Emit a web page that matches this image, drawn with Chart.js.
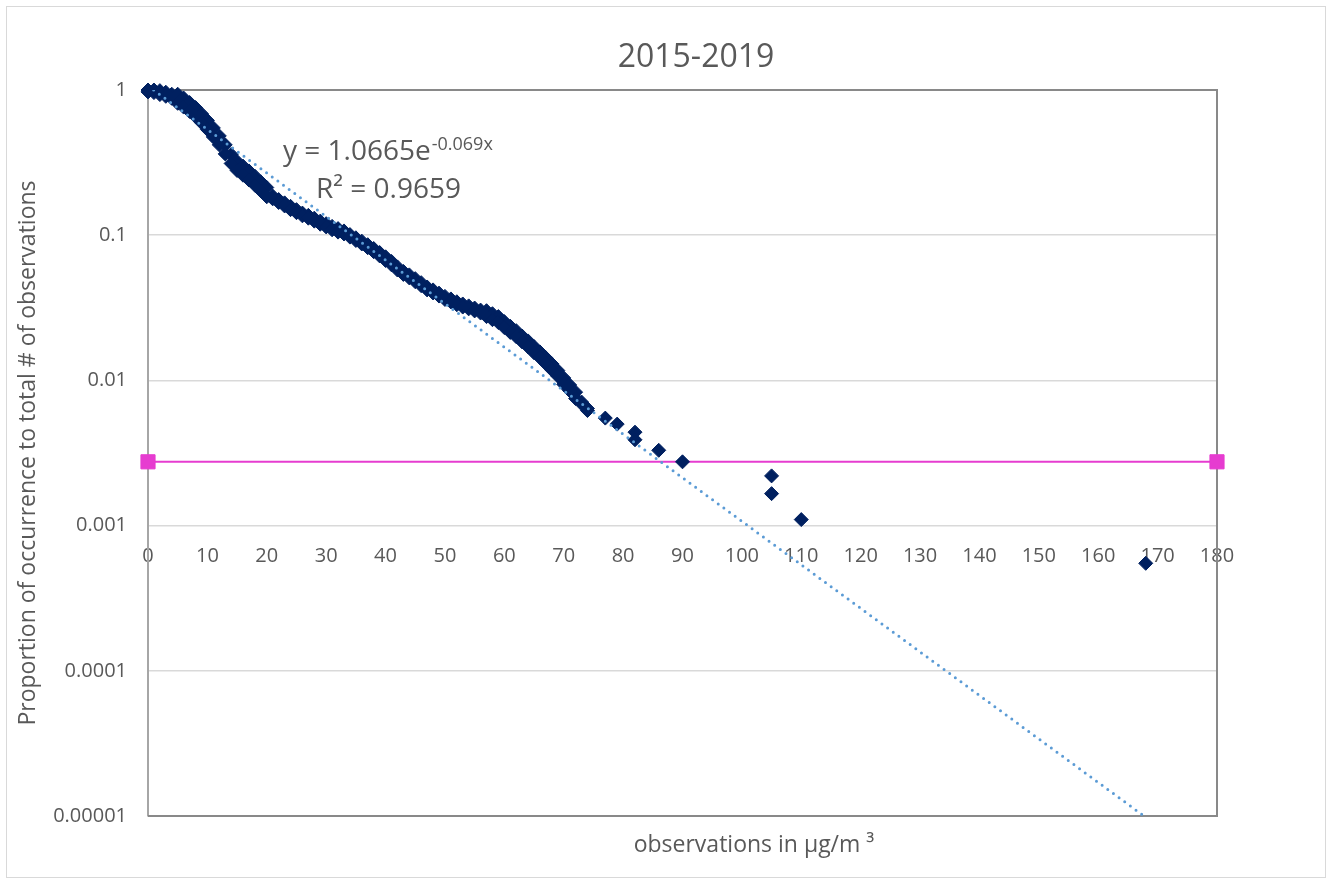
<!DOCTYPE html>
<html><head><meta charset="utf-8">
<script src="https://cdn.jsdelivr.net/npm/chart.js@4/dist/chart.umd.min.js"></script>
<style>html,body{margin:0;padding:0;background:#fff;} #wrap{width:1330px;height:882px;}</style>
</head><body><div id="wrap"><canvas id="c" width="1330" height="882"></canvas></div>
<script>
const chartTitle = '2015-2019';
const xAxisTitle = 'observations in µg/m ³';
const yAxisTitle = 'Proportion of occurrence to total # of observations';
const trendEquation = 'y = 1.0665e';
const trendExponent = '-0.069x';
const trendR2 = 'R² = 0.9659';

// dense part of the observations: upper and lower edge of the band at each µg/m³
const bandX = [0,1,2,3,4,5,6,7,8,9,10,11,12,13,14,15,16,17,18,19,20,21,22,23,24,25,26,27,28,29,30,31,32,33,34,35,36,37,38,39,40,41,42,43,44,45,46,47,48,49,50,51,52,53,54,55,56,57,58,59,60,61,62,63,64,65,66,67,68,69,70,71,72,73,74];
const bandUpperY = [1.0,1.0,0.99,0.965,0.935,0.935,0.88,0.82,0.757,0.687,0.617,0.548,0.483,0.419,0.36,0.322,0.299,0.277,0.255,0.233,0.213,0.186,0.176,0.167,0.158,0.150,0.142,0.137,0.131,0.125,0.120,0.115,0.111,0.107,0.101,0.096,0.091,0.086,0.081,0.076,0.071,0.066,0.0605,0.0563,0.0533,0.0502,0.0471,0.0440,0.0420,0.0399,0.0379,0.0364,0.0348,0.0336,0.0326,0.0315,0.0305,0.0302,0.0288,0.0275,0.0254,0.0236,0.0220,0.0202,0.0187,0.0171,0.0157,0.0143,0.0130,0.0117,0.0104,0.0093,0.0083,0.0071,0.0064];
const bandLowerY = [0.97,0.96,0.93,0.905,0.877,0.81,0.763,0.712,0.656,0.596,0.535,0.475,0.419,0.363,0.312,0.279,0.259,0.240,0.221,0.202,0.184,0.178,0.168,0.159,0.150,0.143,0.136,0.131,0.125,0.119,0.114,0.109,0.105,0.102,0.097,0.092,0.087,0.082,0.077,0.072,0.067,0.0625,0.0576,0.0537,0.0508,0.0478,0.0449,0.0420,0.0400,0.0381,0.0361,0.0347,0.0332,0.0320,0.0311,0.0301,0.0291,0.0275,0.0262,0.0250,0.0231,0.0214,0.0200,0.0184,0.0170,0.0155,0.0143,0.0130,0.0118,0.0107,0.0094,0.0085,0.0075,0.0069,0.0062];
// isolated high observations
const tailX = [77,79,82,82,86,90,105,105,110,168];
const tailY = [0.0055,0.0050,0.0044,0.0039,0.0033,0.00275,0.0022,0.00166,0.0011,0.00055];
// exponential trendline end points
const trendX = [0, 168];
const trendY = [1.0665, 0.0000098];
// limit line
const limitX = [0, 180];
const limitY = [0.00275, 0.00275];
const xTicks = [0,10,20,30,40,50,60,70,80,90,100,110,120,130,140,150,160,170,180];
const yTickValues = [0.00001, 0.0001, 0.001, 0.01, 0.1, 1];
const yTickLabels = ['0.00001', '0.0001', '0.001', '0.01', '0.1', '1'];

const FONT = '"Open Sans", "DejaVu Sans", sans-serif';
const TEXT = '#595959';

const zip = (xs, ys) => xs.map((x, i) => ({x: x, y: ys[i]}));
const obsPoints = zip(bandX, bandUpperY).concat(zip(bandX, bandLowerY)).concat(zip(tailX, tailY));

const overlay = {
  id: 'overlay',
  beforeDraw(chart) {
    const ctx = chart.ctx;
    ctx.save();
    ctx.fillStyle = '#ffffff';
    ctx.fillRect(0, 0, chart.width, chart.height);
    ctx.strokeStyle = '#d9d9d9';
    ctx.lineWidth = 1;
    ctx.strokeRect(6.5, 6.5, 1319, 871);
    ctx.restore();
  },
  beforeDatasetsDraw(chart) {
    const ctx = chart.ctx, a = chart.chartArea;
    ctx.save();
    ctx.strokeStyle = '#898989';
    ctx.lineWidth = 2;
    ctx.beginPath();
    ctx.moveTo(a.left, a.top);
    ctx.lineTo(a.right, a.top);
    ctx.lineTo(a.right, a.bottom);
    ctx.lineTo(a.left, a.bottom);
    ctx.stroke();
    ctx.restore();
  },
  afterDraw(chart) {
    const ctx = chart.ctx;
    ctx.save();
    ctx.fillStyle = TEXT;
    ctx.textBaseline = 'alphabetic';
    ctx.font = '32px ' + FONT;
    ctx.textAlign = 'center';
    ctx.fillText(chartTitle, 696, 67);
    ctx.font = '23px ' + FONT;
    ctx.fillText(xAxisTitle, 754, 852);
    ctx.textAlign = 'left';
    ctx.font = '28px ' + FONT;
    ctx.fillText(trendEquation, 283, 160);
    const w = ctx.measureText(trendEquation).width;
    ctx.font = '18px ' + FONT;
    ctx.fillText(trendExponent, 283 + w + 1, 150);
    ctx.font = '28px ' + FONT;
    ctx.fillText(trendR2, 316, 198);
    ctx.restore();
  }
};

new Chart(document.getElementById('c'), {
  type: 'scatter',
  data: {
    datasets: [
      {
        label: 'Trend',
        data: zip(trendX, trendY),
        showLine: true,
        borderColor: '#5b9bd5',
        borderWidth: 3,
        borderDash: [0, 7],
        borderCapStyle: 'round',
        pointRadius: 0,
        clip: 0,
        order: 0
      },
      {
        label: 'Observations',
        data: obsPoints,
        pointStyle: 'rectRot',
        pointRadius: 7,
        borderWidth: 1,
        backgroundColor: '#002060',
        borderColor: '#002060',
        clip: false,
        order: 1
      },
      {
        label: 'Limit',
        data: zip(limitX, limitY),
        showLine: true,
        borderColor: '#e63cd0',
        backgroundColor: '#e63cd0',
        borderWidth: 2,
        pointStyle: 'rect',
        pointRadius: 10,
        pointBorderWidth: 1,
        clip: false,
        order: 2
      }
    ]
  },
  options: {
    responsive: false,
    animation: false,
    devicePixelRatio: 1,
    layout: {padding: {left: 10, top: 90, right: 113, bottom: 66}},
    plugins: {legend: {display: false}, tooltip: {enabled: false}, title: {display: false}},
    scales: {
      x: {
        type: 'linear',
        position: {y: 0.001},
        min: 0, max: 180,
        z: 1,
        afterBuildTicks: s => { s.ticks = xTicks.map(v => ({value: v})); },
        grid: {display: false, drawTicks: false},
        border: {display: false},
        ticks: {color: TEXT, font: {family: FONT, size: 20}, padding: 19, maxRotation: 0, autoSkip: false}
      },
      y: {
        type: 'logarithmic',
        position: 'left',
        min: 0.00001, max: 1,
        afterBuildTicks: s => { s.ticks = yTickValues.map(v => ({value: v})); },
        afterFit: s => { s.width = 138; },
        grid: {color: '#d9d9d9', lineWidth: 1.5, drawTicks: false},
        border: {display: true, color: '#a6a6a6', width: 2},
        ticks: {
          color: TEXT, font: {family: FONT, size: 20}, padding: 21, autoSkip: false,
          callback: (v) => { const i = yTickValues.findIndex(t => Math.abs(t - v) / t < 1e-6); return i >= 0 ? yTickLabels[i] : ''; }
        },
        title: {display: true, text: yAxisTitle, color: TEXT, font: {family: FONT, size: 23}, padding: {top: 5, bottom: 0}}
      }
    }
  },
  plugins: [overlay]
});
</script>
</body></html>
